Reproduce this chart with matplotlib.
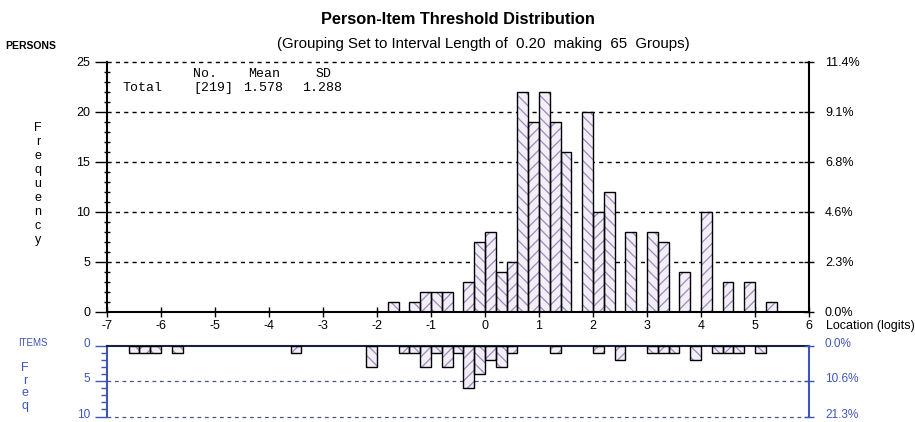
import matplotlib
matplotlib.use("Agg")
from matplotlib import pyplot as plt
from matplotlib.ticker import MultipleLocator
from matplotlib.transforms import ScaledTranslation

plt.rcParams['font.family'] = ['Liberation Sans', 'DejaVu Sans']
plt.rcParams['hatch.linewidth'] = 0.9
plt.rcParams['axes.unicode_minus'] = False

# person threshold counts per 0.2-logit group (group centres)
person_loc = [-1.7, -1.3, -1.1, -0.9, -0.7, -0.3, -0.1, 0.1, 0.3, 0.5,
              0.7, 0.9, 1.1, 1.3, 1.5, 1.9, 2.1, 2.3, 2.7, 3.1,
              3.3, 3.7, 4.1, 4.5, 4.9, 5.3]
person_n = [1, 1, 2, 2, 2, 3, 7, 8, 4, 5,
            22, 19, 22, 19, 16, 20, 10, 12, 8, 8,
            7, 4, 10, 3, 3, 1]

# item threshold counts per group
item_loc = [-6.5, -6.3, -6.1, -5.7, -3.5, -2.1, -1.5, -1.3, -1.1, -0.9,
            -0.7, -0.5, -0.3, -0.1, 0.1, 0.3, 0.5, 1.3, 2.1, 2.5,
            3.1, 3.3, 3.5, 3.9, 4.3, 4.5, 4.7, 5.1]
item_n = [1, 1, 1, 1, 1, 3, 1, 1, 3, 1,
          3, 1, 6, 4, 2, 3, 1, 1, 1, 2,
          1, 1, 1, 2, 1, 1, 1, 1]

x_ticks = list(range(-7, 7))
person_yticks = [0, 5, 10, 15, 20, 25]
item_yticks = [0, 5, 10]
stats_head = ["No.", "Mean", "SD"]
stats_row = ["Total", "[219]", "1.578", "1.288"]

W, H = 915, 422
BLUE = '#3d55b8'
FILL = '#f4eef9'
HATCH = '#968bbd'
lo, hi = -7, 6
width = 0.2


def fx(x):
    return x / W


def fy(y):
    return 1 - y / H


def draw_bars(ax, locs, counts):
    bars = ax.bar(locs, counts, width=width, color=FILL, edgecolor=HATCH,
                  linewidth=0, zorder=2)
    for b, loc in zip(bars, locs):
        k = int(round((loc - lo) / width - 0.5))
        b.set_hatch('\\\\\\' if k % 2 == 0 else '///')
    ax.bar(locs, counts, width=width, fill=False, edgecolor='black',
           linewidth=1.0, zorder=3)


fig = plt.figure(figsize=(W / 100, H / 100), dpi=100)
ax = fig.add_axes([fx(107), fy(312), fx(809 - 107), (312 - 62) / H])
axi = fig.add_axes([fx(107), fy(416.5), fx(809 - 107), (416.5 - 345.5) / H],
                   sharex=ax)

# ---- persons panel
draw_bars(ax, person_loc, person_n)
ax.set_xlim(lo, hi)
ax.set_ylim(0, 25)
ax.set_xticks(x_ticks)
ax.set_yticks(person_yticks)
ax.yaxis.set_minor_locator(MultipleLocator(1))
for v in person_yticks[1:]:
    ax.axhline(v, color='black', lw=1, ls=(0, (3, 3)), clip_on=False, zorder=1)
for s in ['top', 'right']:
    ax.spines[s].set_visible(False)
ax.spines['left'].set_linewidth(1.5)
ax.spines['bottom'].set_linewidth(1.5)
ax.tick_params(axis='y', which='major', direction='out', length=9, width=1,
               labelsize=9, pad=3)
ax.tick_params(axis='y', which='minor', direction='inout', length=4, width=1)
ax.tick_params(axis='x', direction='inout', length=7, width=1, labelsize=9,
               pad=2)

total_p = sum(person_n)
axr = ax.twinx()
axr.set_ylim(0, 25)
axr.set_yticks(person_yticks)
axr.set_yticklabels([f"{v / total_p * 100:.1f}%" for v in person_yticks])
for s in ['top', 'left', 'bottom']:
    axr.spines[s].set_visible(False)
axr.spines['right'].set_linewidth(1.5)
axr.tick_params(axis='y', direction='inout', length=7, width=1, labelsize=9,
                pad=8)

# ---- items panel
draw_bars(axi, item_loc, item_n)
axi.set_ylim(10, 0)
axi.set_yticks(item_yticks)
axi.yaxis.set_minor_locator(MultipleLocator(1))
for v in item_yticks[1:]:
    axi.axhline(v, color='#4a5680', lw=0.9, ls=(0, (3, 3)), clip_on=False,
                zorder=1)
axi.spines['bottom'].set_visible(False)
axi.spines['right'].set_visible(False)
axi.spines['top'].set_color('#1a2040')
axi.spines['top'].set_linewidth(1.5)
axi.spines['left'].set_color(BLUE)
axi.spines['left'].set_linewidth(1.5)
axi.tick_params(axis='x', bottom=False, labelbottom=False)
axi.tick_params(axis='y', which='major', direction='out', length=9, width=1,
                color=BLUE, labelcolor=BLUE, labelsize=8.5, pad=3)
axi.tick_params(axis='y', which='minor', direction='out', length=4, width=1,
                color=BLUE)

total_i = sum(item_n)
axir = axi.twinx()
axir.set_ylim(10, 0)
axir.set_yticks(item_yticks)
axir.set_yticklabels([f"{v / total_i * 100:.1f}%" for v in item_yticks])
for s in ['top', 'left', 'bottom']:
    axir.spines[s].set_visible(False)
axir.spines['right'].set_color(BLUE)
axir.spines['right'].set_linewidth(1.5)
axir.tick_params(axis='y', direction='inout', length=7, width=1, color=BLUE,
                 labelcolor=BLUE, labelsize=8.5, pad=8)

# lift item tick labels a little so the lowest ones stay inside the picture
up = ScaledTranslation(0, 3 / 100, fig.dpi_scale_trans)
for lab in axi.get_yticklabels() + axir.get_yticklabels():
    lab.set_transform(lab.get_transform() + up)

# ---- texts
fig.text(fx(458), fy(20), "Person-Item Threshold Distribution", ha='center',
         va='center', fontsize=11.8, fontweight='bold')
fig.text(fx(483), fy(44),
         "(Grouping Set to Interval Length of  0.20  making  65  Groups)",
         ha='center', va='center', fontsize=10.8)
fig.text(fx(5), fy(46), "PERSONS", ha='left', va='center', fontsize=7.5,
         fontweight='bold')
fig.text(fx(18), fy(343), "ITEMS", ha='left', va='center', fontsize=7,
         color=BLUE)
for i, ch in enumerate("Frequency"):
    fig.text(fx(38), fy(128 + i * 14), ch, ha='center', va='center',
             fontsize=9)
for i, ch in enumerate("Freq"):
    fig.text(fx(25), fy(368 + i * 12.7), ch, ha='center', va='center',
             fontsize=9, color=BLUE)
fig.text(fx(826), fy(326), "Location (logits)", ha='left', va='center',
         fontsize=9)

mono = dict(family='Liberation Mono', fontsize=9.5, va='center')
for txt, x in zip(stats_head, [217, 264, 324]):
    fig.text(fx(x), fy(74), txt, ha='right' if txt == "No." else 'center', **mono)
for txt, x in zip(stats_row, [122, 193, 243, 302]):
    fig.text(fx(x), fy(88), txt, ha='left', **mono)

fig.savefig("out.png", dpi=100)
